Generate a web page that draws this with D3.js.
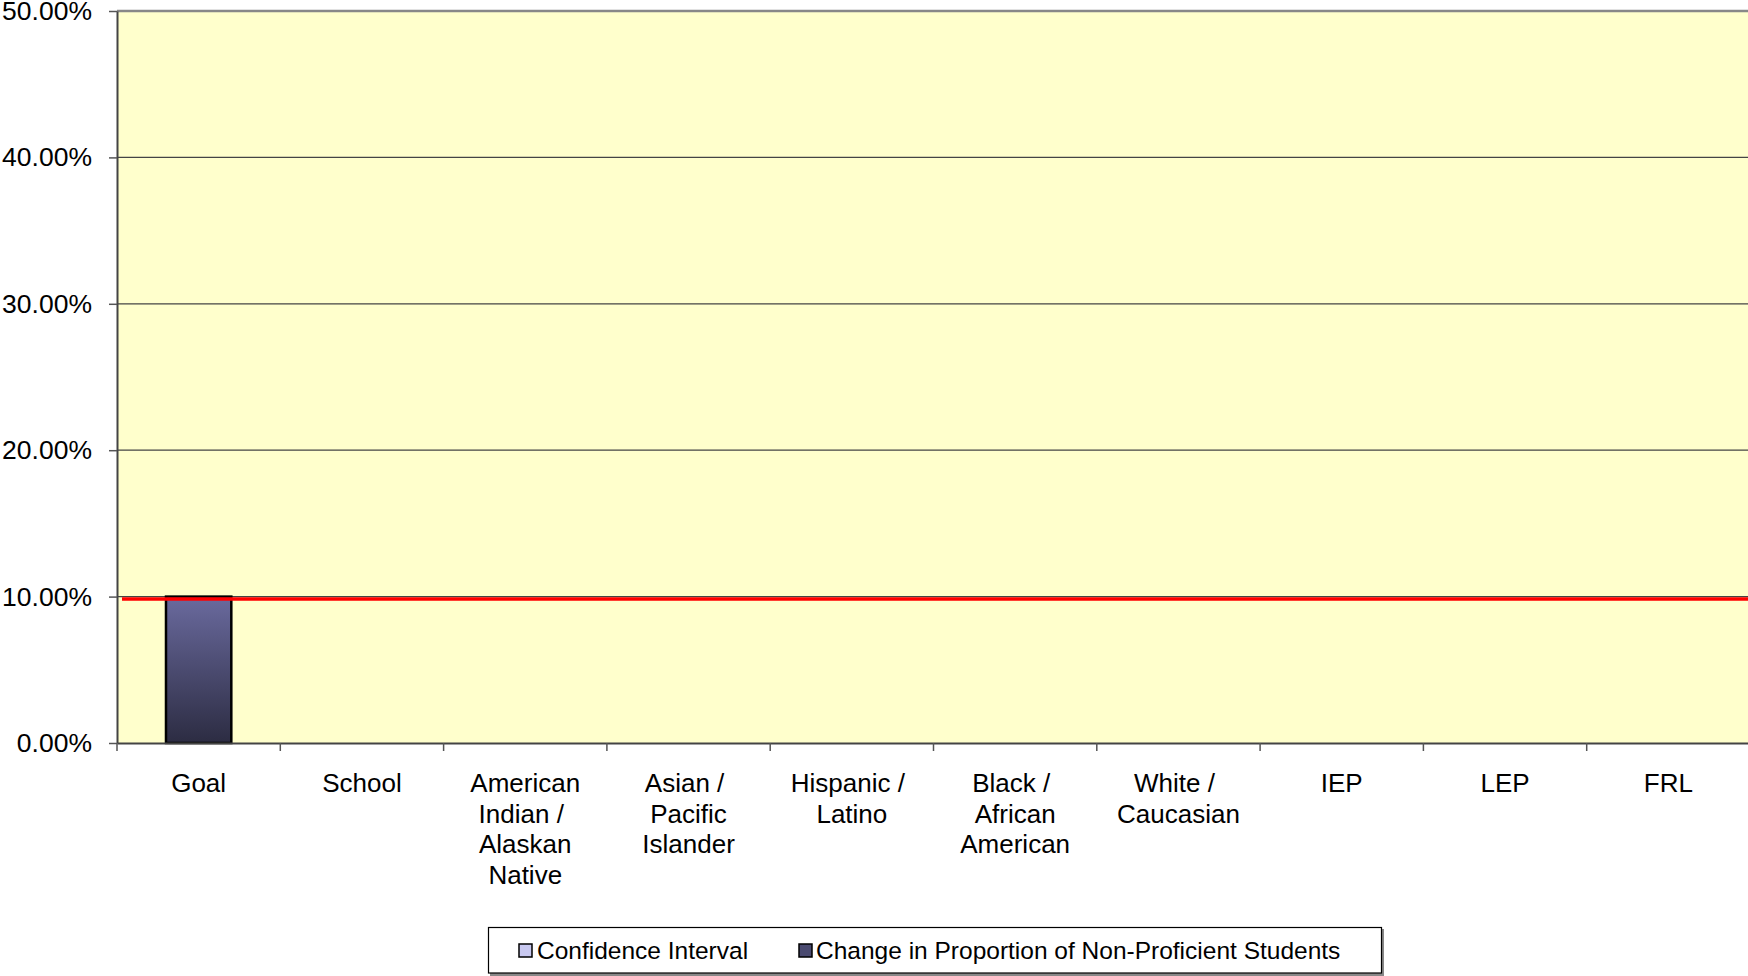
<!DOCTYPE html>
<html>
<head>
<meta charset="utf-8">
<script src="https://cdn.jsdelivr.net/npm/d3@7"></script>
<style>
  body { margin: 0; background: #fff; }
  svg { display: block; font-family: "Liberation Sans", Arial, sans-serif; }
</style>
</head>
<body>
<div id="chart"></div>
<script>
// Chart data
var categories = ["Goal", "School", "American Indian / Alaskan Native", "Asian / Pacific Islander",
                  "Hispanic / Latino", "Black / African American", "White / Caucasian", "IEP", "LEP", "FRL"];
var changeValues = [0.10, null, null, null, null, null, null, null, null, null];
var goalLine = 0.0984;
var yTicks = [0, 0.1, 0.2, 0.3, 0.4, 0.5];
var legendLabels = ["Confidence Interval", "Change in Proportion of Non-Proficient Students"];

var width = 1748, height = 976;
var margin = {top: 11, right: -2, bottom: 233, left: 117};

var svg = d3.select("#chart").append("svg")
    .attr("width", width)
    .attr("height", height);

var x = d3.scaleBand()
    .domain(categories)
    .range([margin.left, width - margin.right])
    .padding(0);

var y = d3.scaleLinear()
    .domain([0, 0.5])
    .range([height - margin.bottom, margin.top]);

var defs = svg.append("defs");
var grad = defs.append("linearGradient")
    .attr("id", "barGrad")
    .attr("x1", 0).attr("y1", 0).attr("x2", 0).attr("y2", 1);
grad.append("stop").attr("offset", "0%").attr("stop-color", "#6a6a9e");
grad.append("stop").attr("offset", "100%").attr("stop-color", "#2c2c42");

// Plot background
svg.append("rect")
    .attr("x", margin.left)
    .attr("y", y(0.5))
    .attr("width", width - margin.left)
    .attr("height", y(0) - y(0.5))
    .attr("fill", "#ffffcc");

// Gridlines
svg.append("g")
    .selectAll("line")
    .data(yTicks.slice(1))
    .enter().append("line")
      .attr("x1", margin.left)
      .attr("x2", width)
      .attr("y1", function(d) { return y(d); })
      .attr("y2", function(d) { return y(d); })
      .attr("stroke", function(d) { return d === 0.5 ? "#888" : "#444"; })
      .attr("stroke-width", function(d) { return d === 0.5 ? 2.5 : 1.2; });

// Bars
svg.append("g")
    .selectAll("rect")
    .data(categories.map(function(c, i) { return {cat: c, v: changeValues[i]}; })
            .filter(function(d) { return d.v != null; }))
    .enter().append("rect")
      .attr("x", function(d) { return x(d.cat) + x.bandwidth() * 0.3; })
      .attr("y", function(d) { return y(d.v); })
      .attr("width", x.bandwidth() * 0.4)
      .attr("height", function(d) { return y(0) - y(d.v); })
      .attr("fill", "url(#barGrad)")
      .attr("stroke", "#000")
      .attr("stroke-width", 2.5);

// Goal line
svg.append("line")
    .attr("x1", margin.left + 5)
    .attr("x2", width)
    .attr("y1", y(goalLine))
    .attr("y2", y(goalLine))
    .attr("stroke", "#ff0000")
    .attr("stroke-width", 3.5);

// Y axis
var yAxis = svg.append("g")
    .attr("transform", "translate(" + margin.left + ",0)")
    .call(d3.axisLeft(y).tickValues(yTicks).tickFormat(d3.format(".2%")).tickSize(8).tickSizeOuter(0));
yAxis.select(".domain").attr("stroke", "#444").attr("stroke-width", 2);
yAxis.selectAll(".tick line").attr("stroke", "#555").attr("stroke-width", 1.5);
yAxis.selectAll(".tick text")
    .attr("x", -25)
    .attr("font-size", 26.5)
    .attr("fill", "#000")
    .attr("font-family", "Liberation Sans, Arial, sans-serif");

// X axis
var xAxis = svg.append("g")
    .attr("transform", "translate(0," + y(0) + ")")
    .call(d3.axisBottom(x).tickSize(0).tickSizeOuter(0));
xAxis.select(".domain").attr("stroke", "#444").attr("stroke-width", 2);
xAxis.selectAll(".tick text").remove();

// Tick marks at band boundaries
xAxis.selectAll(".bound")
    .data(categories)
    .enter().append("line")
      .attr("class", "bound")
      .attr("x1", function(d) { return x(d); })
      .attr("x2", function(d) { return x(d); })
      .attr("y1", 0)
      .attr("y2", 8)
      .attr("stroke", "#555")
      .attr("stroke-width", 1.5);

// Wrapped category labels
function wrapWords(text, maxW) {
  var words = text.split(" "), lines = [], cur = "";
  var tmp = svg.append("text").attr("font-size", 26);
  words.forEach(function(w) {
    var test = cur ? cur + " " + w : w;
    tmp.text(test);
    if (tmp.node().getComputedTextLength() > maxW && cur) {
      lines.push(cur);
      cur = w;
    } else {
      cur = test;
    }
  });
  lines.push(cur);
  tmp.remove();
  return lines;
}

var labels = svg.append("g").selectAll("text")
    .data(categories)
    .enter().append("text")
      .attr("text-anchor", "middle")
      .attr("font-size", 26)
      .attr("fill", "#000")
      .attr("x", function(d) { return x(d) + x.bandwidth() / 2; })
      .attr("y", y(0) + 49);

labels.each(function(d) {
  var t = d3.select(this);
  var cx = x(d) + x.bandwidth() / 2;
  wrapWords(d, 145).forEach(function(line, i) {
    t.append("tspan")
      .attr("x", cx - (line.slice(-1) === "/" ? 4 : 0))
      .attr("dy", i === 0 ? 0 : 30.5)
      .text(line);
  });
});

// Legend
var legend = svg.append("g");
legend.append("rect")
    .attr("x", 490).attr("y", 929)
    .attr("width", 894).attr("height", 47)
    .attr("fill", "#888");
legend.append("rect")
    .attr("x", 488.5).attr("y", 927.5)
    .attr("width", 893).attr("height", 45.5)
    .attr("fill", "#fff")
    .attr("stroke", "#000")
    .attr("stroke-width", 1.2);

var legendItems = [
  {label: legendLabels[0], fill: "#c8c8f0", x: 519, tx: 537},
  {label: legendLabels[1], fill: "#4a4a70", x: 799, tx: 816}
];
legend.selectAll(".sw")
    .data(legendItems)
    .enter().append("rect")
      .attr("x", function(d) { return d.x; })
      .attr("y", 944)
      .attr("width", 13).attr("height", 13)
      .attr("fill", function(d) { return d.fill; })
      .attr("stroke", "#000")
      .attr("stroke-width", 1.5);
legend.selectAll(".lt")
    .data(legendItems)
    .enter().append("text")
      .attr("x", function(d) { return d.tx; })
      .attr("y", 959)
      .attr("font-size", 24.5)
      .attr("fill", "#000")
      .text(function(d) { return d.label; });
</script>
</body>
</html>
